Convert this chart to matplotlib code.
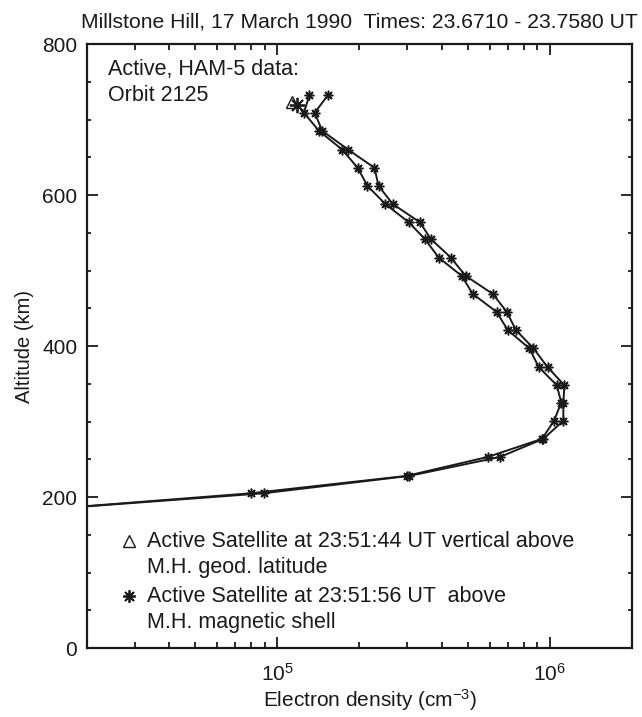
import numpy as np
import matplotlib
matplotlib.use('Agg')
import matplotlib.pyplot as plt
from matplotlib.ticker import LogLocator, MultipleLocator, NullFormatter

plt.rcParams['font.family'] = ['Liberation Sans', 'DejaVu Sans']
plt.rcParams['mathtext.fontset'] = 'custom'
plt.rcParams['mathtext.rm'] = 'Liberation Sans'
plt.rcParams['mathtext.it'] = 'Liberation Sans'

# profile along geodetic vertical (left branch) and along magnetic shell (right branch)
alt = [732, 709, 685, 660, 636, 612, 588, 564, 542, 517, 493, 469, 445,
       421, 397, 372, 348, 325, 301, 277, 253, 228, 205, 181]
ne_geod = [1.31e5, 1.25e5, 1.42e5, 1.73e5, 1.97e5, 2.14e5, 2.49e5, 3.03e5,
           3.47e5, 3.91e5, 4.74e5, 5.21e5, 6.38e5, 7.0e5, 8.4e5, 9.1e5,
           1.06e6, 1.10e6, 1.035e6, 9.35e5, 5.9e5, 2.98e5, 8.0e4, 1.13e4]
ne_shell = [1.53e5, 1.37e5, 1.46e5, 1.82e5, 2.27e5, 2.35e5, 2.65e5, 3.33e5,
            3.65e5, 4.33e5, 4.9e5, 6.17e5, 6.95e5, 7.5e5, 8.7e5, 9.8e5,
            1.13e6, 1.12e6, 1.12e6, 9.45e5, 6.55e5, 3.05e5, 8.9e4, 1.13e4]

# satellite positions
sat_tri = (1.135e5, 723)
sat_star = (1.18e5, 719)

star = (8, 2, 0)
ink = '#1a1a1a'

fig = plt.figure(figsize=(6.42, 7.17), dpi=100)
ax = fig.add_axes([0.1355, 0.0962, 0.8489, 0.8424])

for ne in (ne_geod, ne_shell):
    ax.plot(ne, alt, color=ink, lw=1.4, marker=star, ms=7, mew=1.1)

ax.plot(*sat_tri, marker='^', ms=9, mfc='none', mec=ink, mew=1.0)
ax.plot(*sat_star, marker=star, ms=11, mec=ink, mew=1.3)

ax.set_xscale('log')
ax.set_xlim(2e4, 2e6)
ax.set_ylim(0, 800)

ax.xaxis.set_major_locator(LogLocator(base=10, numticks=10))
ax.xaxis.set_minor_locator(LogLocator(base=10, subs=np.arange(2, 10), numticks=20))
ax.xaxis.set_minor_formatter(NullFormatter())
ax.yaxis.set_major_locator(MultipleLocator(200))
ax.yaxis.set_minor_locator(MultipleLocator(50))

ax.tick_params(which='both', direction='in', top=True, right=True,
               labelsize=15, width=1.3, color=ink, labelcolor=ink)
ax.tick_params(which='major', length=8)
ax.tick_params(axis='x', which='major', pad=11)
ax.tick_params(axis='y', which='major', pad=7)
ax.tick_params(axis='x', which='minor', length=4.5)
ax.tick_params(axis='y', which='minor', length=3)
for s in ax.spines.values():
    s.set_linewidth(1.6)
    s.set_color(ink)

ax.set_xlabel('Electron density (cm$^{-3}$)', fontsize=15, color=ink, labelpad=2)
ax.xaxis.set_label_coords(0.52, -0.065)
ax.set_ylabel('Altitude (km)', fontsize=14.5, color=ink, labelpad=6)
fig.text(0.993, 0.969, 'Millstone Hill, 17 March 1990  Times: 23.6710 - 23.7580 UT',
         ha='right', va='center', fontsize=15.2, color=ink)

ax.text(0.039, 0.957, 'Active, HAM-5 data:', transform=ax.transAxes,
        ha='left', va='center', fontsize=15.5, color=ink)
ax.text(0.039, 0.915, 'Orbit 2125', transform=ax.transAxes,
        ha='left', va='center', fontsize=15.5, color=ink)

# legend drawn by hand
ax.plot([0.077], [0.177], transform=ax.transAxes, marker='^', ms=8, mfc='none',
        mec=ink, mew=1.0, clip_on=False)
ax.plot([0.077], [0.086], transform=ax.transAxes, marker=star, ms=9,
        mec=ink, mew=1.3, clip_on=False)
legend_lines = [(0.177, 'Active Satellite at 23:51:44 UT vertical above'),
                (0.133, 'M.H. geod. latitude'),
                (0.086, 'Active Satellite at 23:51:56 UT  above'),
                (0.043, 'M.H. magnetic shell')]
for y, s in legend_lines:
    ax.text(0.110, y, s, transform=ax.transAxes, ha='left', va='center',
            fontsize=15.5, color=ink)

fig.savefig('out.png', dpi=100)
